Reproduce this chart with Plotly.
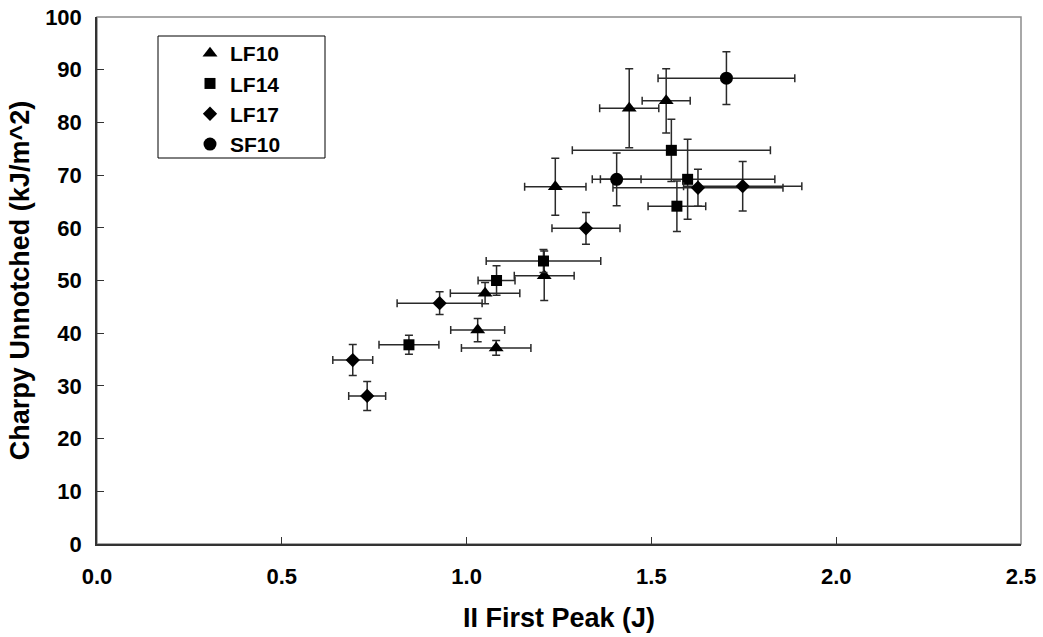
import plotly.graph_objects as go

# ---- data ----
lf10_x = [1.08, 1.03, 1.05, 1.21, 1.24, 1.44, 1.54]
lf10_y = [37.2, 40.6, 47.6, 50.9, 67.8, 82.7, 84.1]
lf10_xerr = [0.094, 0.073, 0.094, 0.081, 0.083, 0.080, 0.065]
lf10_yerr = [1.4, 2.2, 2.0, 4.7, 5.4, 7.5, 6.1]

lf14_x = [0.844, 1.081, 1.208, 1.569, 1.554, 1.598]
lf14_y = [37.8, 50.0, 53.7, 64.1, 74.7, 69.2]
lf14_xerr = [0.081, 0.050, 0.155, 0.078, 0.268, 0.236]
lf14_yerr = [1.8, 2.8, 2.2, 4.8, 5.9, 7.6]

lf17_x = [0.731, 0.692, 0.927, 1.323, 1.626, 1.747]
lf17_y = [28.1, 34.9, 45.7, 59.9, 67.6, 67.9]
lf17_xerr = [0.050, 0.054, 0.115, 0.092, 0.230, 0.160]
lf17_yerr = [2.75, 2.95, 2.15, 3.0, 3.5, 4.7]

sf10_x = [1.406, 1.703]
sf10_y = [69.2, 88.4]
sf10_xerr = [0.066, 0.185]
sf10_yerr = [5.0, 5.0]

x_ticks = [0.0, 0.5, 1.0, 1.5, 2.0, 2.5]
y_ticks = [0, 10, 20, 30, 40, 50, 60, 70, 80, 90, 100]

FONT = "Liberation Sans, Arial, sans-serif"
ERR_COLOR = "#2a2a2a"
AXIS_COLOR = "#333333"

series = [
    ("LF10", lf10_x, lf10_y, lf10_xerr, lf10_yerr, "triangle-up", 13),
    ("LF14", lf14_x, lf14_y, lf14_xerr, lf14_yerr, "square", 11),
    ("LF17", lf17_x, lf17_y, lf17_xerr, lf17_yerr, "diamond", 11),
    ("SF10", sf10_x, sf10_y, sf10_xerr, sf10_yerr, "circle", 13),
]

fig = go.Figure()
for name, xs, ys, xe, ye, sym, sz in series:
    fig.add_trace(go.Scatter(
        x=xs, y=ys, name=name, mode="markers",
        marker=dict(symbol=sym, size=sz, color="black", line=dict(width=0)),
        error_x=dict(type="data", array=xe, visible=True, color=ERR_COLOR, thickness=1.5, width=4),
        error_y=dict(type="data", array=ye, visible=True, color=ERR_COLOR, thickness=1.5, width=4),
    ))

L, R, T, B = 97, 22, 17, 93
PW, PH = 1043 - L - R, 637 - T - B

fig.update_layout(
    width=1043, height=637,
    margin=dict(l=L, r=R, t=T, b=B),
    paper_bgcolor="white", plot_bgcolor="white",
    font=dict(family=FONT, color="black"),
    showlegend=True,
    legend=dict(
        x=(190 - L) / PW, y=(544 - 33) / PH, xanchor="left", yanchor="top",
        bgcolor="rgba(0,0,0,0)", borderwidth=0,
        font=dict(family=FONT, size=21, color="black", weight="bold"),
        itemsizing="trace", tracegroupgap=0,
    ),
    shapes=[
        # plot-area frame (grey, top & right visible)
        dict(type="rect", xref="paper", yref="paper", x0=0, x1=1, y0=0, y1=1,
             line=dict(color="#8c8c8c", width=1.5), layer="below"),
        # legend box
        dict(type="rect", xref="paper", yref="paper",
             x0=(158 - L) / PW, x1=(325 - L) / PW,
             y0=(544 - 158) / PH, y1=(544 - 36) / PH,
             line=dict(color="black", width=1), fillcolor="white", layer="below"),
    ],
)

fig.update_xaxes(
    range=[0, 2.5], tickvals=x_ticks, ticktext=[f"{v:.1f}" for v in x_ticks],
    showgrid=False, zeroline=False, showline=True, linecolor=AXIS_COLOR, linewidth=1.5,
    ticks="inside", ticklen=7, tickcolor=AXIS_COLOR, tickwidth=1,
    tickfont=dict(family=FONT, size=22, color="black", weight="bold"),
    ticklabelstandoff=12, automargin=False,
    title=dict(text="II First Peak (J)", font=dict(family=FONT, size=27, color="black", weight="bold"), standoff=20),
)
fig.update_yaxes(
    range=[0, 100], tickvals=y_ticks, ticktext=[str(v) for v in y_ticks],
    showgrid=False, zeroline=False, showline=True, linecolor=AXIS_COLOR, linewidth=1.5,
    ticks="inside", ticklen=7, tickcolor=AXIS_COLOR, tickwidth=1,
    tickfont=dict(family=FONT, size=22, color="black", weight="bold"),
    ticklabelstandoff=9, automargin=False,
    title=dict(text="Charpy Unnotched (kJ/m^2)", font=dict(family=FONT, size=27, color="black", weight="bold"), standoff=8),
)

fig.write_html("out.html")
